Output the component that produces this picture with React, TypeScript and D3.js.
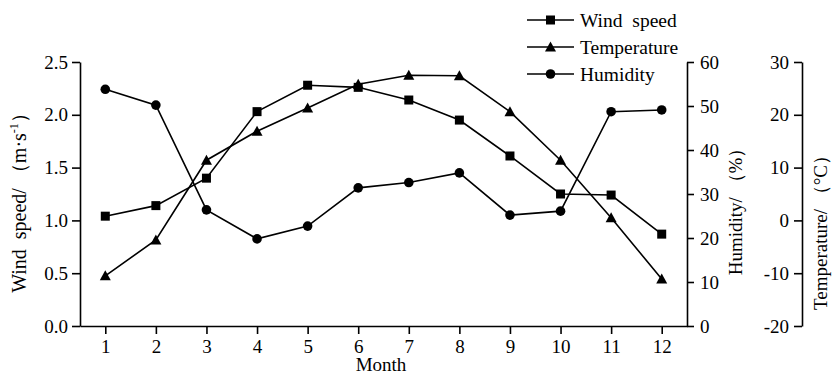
import { useEffect, useRef } from "react";
import * as d3 from "d3";

const months = [1, 2, 3, 4, 5, 6, 7, 8, 9, 10, 11, 12];
const windSpeed = [1.04, 1.14, 1.4, 2.03, 2.28, 2.26, 2.14, 1.95, 1.61, 1.25, 1.24, 0.87];
const temperature = [-10.5, -3.7, 11.4, 16.9, 21.3, 25.8, 27.5, 27.4, 20.6, 11.4, 0.5, -11.1];
const humidity = [53.8, 50.2, 26.4, 19.8, 22.7, 31.4, 32.6, 34.8, 25.2, 26.1, 48.7, 49.1];

const windTicks = [0, 0.5, 1, 1.5, 2, 2.5];
const humidityTicks = [0, 10, 20, 30, 40, 50, 60];
const tempTicks = [-20, -10, 0, 10, 20, 30];

const W = 837;
const H = 379;
const FONT = "'Liberation Serif', 'Times New Roman', serif";

type Marker = "square" | "triangle" | "circle";

function drawMarker(g: d3.Selection<SVGGElement, unknown, null, undefined>, kind: Marker, x: number, y: number) {
  if (kind === "square") {
    g.append("rect").attr("x", x - 4.5).attr("y", y - 4.5).attr("width", 9).attr("height", 9).attr("fill", "#000");
  } else if (kind === "circle") {
    g.append("circle").attr("cx", x).attr("cy", y).attr("r", 4.8).attr("fill", "#000");
  } else {
    g.append("path")
      .attr("d", `M${x},${y - 5.5}L${x + 5.5},${y + 4.5}L${x - 5.5},${y + 4.5}Z`)
      .attr("fill", "#000");
  }
}

export default function App(): JSX.Element {
  const ref = useRef<SVGSVGElement | null>(null);

  useEffect(() => {
    if (!ref.current) return;
    const svg = d3.select(ref.current);
    svg.selectAll("*").remove();

    const left = 80;
    const mid = 687;
    const right = 802;
    const top = 62;
    const bottom = 326;

    const x = d3.scaleLinear().domain([0.5, 12.5]).range([left, mid]);
    const yWind = d3.scaleLinear().domain([0, 2.5]).range([bottom, top]);
    const yHum = d3.scaleLinear().domain([0, 60]).range([bottom, top]);
    const yTemp = d3.scaleLinear().domain([-20, 30]).range([bottom, top]);

    const styleAxis = (g: d3.Selection<SVGGElement, unknown, null, undefined>) => {
      g.selectAll("path").attr("stroke", "#000").attr("stroke-width", 1.6);
      g.selectAll("line").attr("stroke", "#000").attr("stroke-width", 1.6);
      g.selectAll("text").attr("font-family", FONT).attr("font-size", 19).attr("fill", "#000");
    };

    // bottom axis
    const gx = svg
      .append("g")
      .attr("transform", `translate(0,${bottom})`)
      .call(d3.axisBottom(x).tickValues(months).tickSize(8).tickSizeOuter(0).tickPadding(6).tickFormat((d) => String(d)));
    styleAxis(gx);

    // left axis: wind speed
    const gl = svg
      .append("g")
      .attr("transform", `translate(${left},0)`)
      .call(d3.axisLeft(yWind).tickValues(windTicks).tickSize(8).tickSizeOuter(0).tickPadding(4).tickFormat(d3.format(".1f")));
    styleAxis(gl);

    // middle axis: humidity
    const gm = svg
      .append("g")
      .attr("transform", `translate(${mid},0)`)
      .call(d3.axisRight(yHum).tickValues(humidityTicks).tickSize(7).tickSizeOuter(0).tickPadding(6).tickFormat((d) => String(d)));
    styleAxis(gm);

    // right axis: temperature (ticks facing left)
    const gr = svg
      .append("g")
      .attr("transform", `translate(${right},0)`)
      .call(d3.axisLeft(yTemp).tickValues(tempTicks).tickSize(8).tickSizeOuter(0).tickPadding(5).tickFormat((d) => String(d)));
    styleAxis(gr);

    // axis titles
    const title = (tx: number, ty: number, rotate: number, size = 19) =>
      svg
        .append("text")
        .attr("transform", `translate(${tx},${ty}) rotate(${rotate})`)
        .attr("text-anchor", "middle")
        .attr("font-family", FONT)
        .attr("font-size", size)
        .attr("fill", "#000")
        .attr("xml:space", "preserve")
        .style("white-space", "pre");

    title(381, 371, 0).text("Month");

    const wt = title(26, 198, -90, 20);
    wt.append("tspan").text("Wind  speed/ （m·s");
    wt.append("tspan").attr("font-size", 12).attr("dy", -8).text("-1");
    wt.append("tspan").attr("dy", 8).text("）");

    title(742, 207, -90).text("Humidity/ （%）");
    title(827, 228, -90).text("Temperature/ （°C）");

    // series
    const series: { values: number[]; y: d3.ScaleLinear<number, number>; marker: Marker }[] = [
      { values: windSpeed, y: yWind, marker: "square" },
      { values: temperature, y: yTemp, marker: "triangle" },
      { values: humidity, y: yHum, marker: "circle" },
    ];

    series.forEach((s) => {
      const line = d3
        .line<number>()
        .x((_, i) => x(months[i]))
        .y((d) => s.y(d));
      svg.append("path").attr("d", line(s.values)).attr("fill", "none").attr("stroke", "#000").attr("stroke-width", 1.6);
      const g = svg.append("g");
      s.values.forEach((v, i) => drawMarker(g, s.marker, x(months[i]), s.y(v)));
    });

    // legend
    const legendItems: { label: string; marker: Marker }[] = [
      { label: "Wind  speed", marker: "square" },
      { label: "Temperature", marker: "triangle" },
      { label: "Humidity", marker: "circle" },
    ];
    legendItems.forEach((item, i) => {
      const ly = 20 + i * 27;
      const g = svg.append("g");
      g.append("line").attr("x1", 527).attr("x2", 574).attr("y1", ly).attr("y2", ly).attr("stroke", "#000").attr("stroke-width", 1.6);
      drawMarker(g, item.marker, 550.5, ly);
      g.append("text")
        .attr("x", 580)
        .attr("y", ly + 6.5)
        .attr("font-family", FONT)
        .attr("font-size", 19.5)
        .attr("fill", "#000")
        .style("white-space", "pre")
        .text(item.label);
    });
  }, []);

  return (
    <svg
      ref={ref}
      width={W}
      height={H}
      style={{ position: "absolute", left: 0, top: 0, background: "#fff" }}
    />
  );
}
